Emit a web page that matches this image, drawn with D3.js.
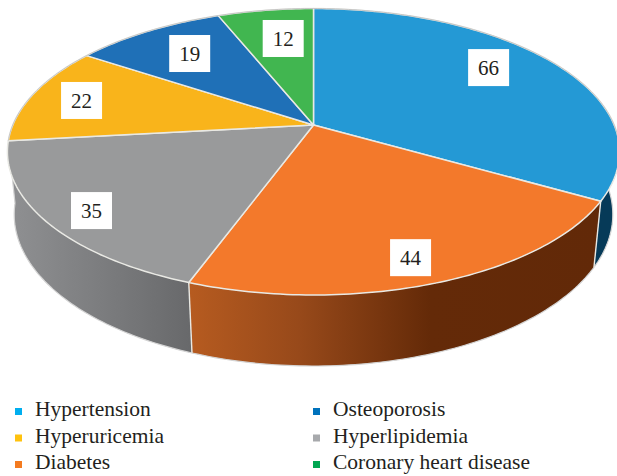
<!DOCTYPE html>
<html>
<head>
<meta charset="utf-8">
<script src="https://cdn.jsdelivr.net/npm/d3@7"></script>
<style>
    html, body { margin: 0; padding: 0; background: #fff; }
    svg { display: block; }
</style>
</head>
<body>
<div id="chart"></div>
<script>
const categories = ['Hypertension', 'Diabetes', 'Hyperlipidemia', 'Hyperuricemia', 'Osteoporosis', 'Coronary heart disease'];
const values = [66, 44, 35, 22, 19, 12];
const topColors = ['#2499d5', '#f3792b', '#999a9b', '#f9b41b', '#1f70b7', '#41b650'];
const legendColors = ['#00aeef', '#f47b20', '#a7a9ac', '#ffc20e', '#0072bc', '#00a651'];
const legendOrder = ['Hypertension', 'Osteoporosis', 'Hyperuricemia', 'Hyperlipidemia', 'Diabetes', 'Coronary heart disease'];

// wall shading, left to right in pixels: [x stops], [colours]
const wallShade = [
    [[594, 617], ['#063a58', '#063a58']],
    [[190, 300, 430, 600], ['#b65b20', '#97491a', '#642a08', '#622908']],
    [[10, 100, 190], ['#8f9092', '#7c7d7f', '#68696b']]
];
// small pixel shift of each value box from its slice centre
const labelNudge = [[4, -12], [15, 29], [-42, 20.5], [-33.5, -2.4], [-3.3, -3.3], [5, -2.3]];

const width = 617, height = 476;

// perspective view of the disc: x, y on unit disc, z = 0 top face, 1 bottom face
function project(angle, r, z) {
    const x = r * Math.sin(angle), y = -r * Math.cos(angle);
    const w = 1 - 0.1867 * y + 0.0219 * z;
    return [313.5 + 300.7 * x / w, (114.9 * y + 125 + 65.8 * z) / w];
}

const svg = d3.select('#chart').append('svg')
    .attr('width', width)
    .attr('height', height)
    .attr('viewBox', `0 0 ${width} ${height}`);

const arcs = d3.pie().sort(null)(values);
const line = d3.line();
const step = Math.PI / 180;

function arcPoints(d, z) {
    const n = Math.max(2, Math.ceil((d.endAngle - d.startAngle) / step));
    return d3.range(n + 1).map(i => project(d.startAngle + (d.endAngle - d.startAngle) * i / n, 1, z));
}

const defs = svg.append('defs');
wallShade.forEach((s, i) => {
    const x0 = s[0][0], x1 = s[0][s[0].length - 1];
    const grad = defs.append('linearGradient')
        .attr('id', `wall${i}`)
        .attr('gradientUnits', 'userSpaceOnUse')
        .attr('x1', x0).attr('x2', x1)
        .attr('y1', 0).attr('y2', 0);
    s[0].forEach((x, k) => {
        grad.append('stop')
            .attr('offset', (x - x0) / (x1 - x0))
            .attr('stop-color', s[1][k]);
    });
});

// side walls, the first three slices face the viewer
const walls = svg.append('g');
arcs.slice(0, 3).forEach((d, i) => {
    const upper = arcPoints(d, 0), lower = arcPoints(d, 1);
    walls.append('path')
        .attr('d', line(upper.concat(lower.slice().reverse())) + 'Z')
        .attr('fill', `url(#wall${i})`);
    walls.append('path')
        .attr('d', line(lower))
        .attr('fill', 'none')
        .attr('stroke', '#d4d4d4')
        .attr('stroke-width', 1.2);
});

// vertical seams, the last one is the silhouette on the left
arcs.slice(1, 3).forEach(d => {
    walls.append('path')
        .attr('d', line([project(d.startAngle, 1, 0), project(d.startAngle, 1, 1)]))
        .attr('stroke', '#e9e9e4')
        .attr('stroke-width', 1.4);
});
walls.append('path')
    .attr('d', line([project(arcs[2].endAngle, 1, 0), project(arcs[2].endAngle, 1, 1)]))
    .attr('stroke', '#d4d4d4')
    .attr('stroke-width', 1.2);

// top face
svg.append('g').selectAll('path')
    .data(arcs)
    .enter().append('path')
    .attr('d', d => line([project(0, 0, 0)].concat(arcPoints(d, 0))) + 'Z')
    .attr('fill', (d, i) => topColors[i])
    .attr('stroke', '#e9e9e4')
    .attr('stroke-width', 1.5)
    .attr('stroke-linejoin', 'round');

// thin grey edge on the far side of the disc
svg.append('g').selectAll('path')
    .data([arcs[0], arcs[3], arcs[4], arcs[5]])
    .enter().append('path')
    .attr('d', d => line(arcPoints(d, 0).filter(p => p[1] < 150)))
    .attr('fill', 'none')
    .attr('stroke', '#bdbdbd')
    .attr('stroke-width', 0.8);

// value boxes
const labels = svg.append('g').selectAll('g')
    .data(arcs)
    .enter().append('g')
    .attr('transform', (d, i) => {
        const p = project((d.startAngle + d.endAngle) / 2, 0.7, 0);
        return `translate(${p[0] + labelNudge[i][0]},${p[1] + labelNudge[i][1]})`;
    });

labels.append('rect')
    .attr('x', -20.5)
    .attr('y', -18.5)
    .attr('width', 41)
    .attr('height', 37)
    .attr('fill', '#fff');

labels.append('text')
    .text(d => d.value)
    .attr('text-anchor', 'middle')
    .attr('dy', '0.34em')
    .style('font-family', '"Liberation Serif", serif')
    .style('font-size', '21px')
    .style('fill', '#231f20');

// legend, two columns
const colX = d3.scaleOrdinal().domain([0, 1]).range([15, 313]);
const rowY = d3.scalePoint().domain([0, 1, 2]).range([416, 469]);

const legend = svg.append('g').selectAll('g')
    .data(legendOrder)
    .enter().append('g')
    .attr('transform', (d, i) => `translate(${colX(i % 2)},${rowY(Math.floor(i / 2))})`);

legend.append('rect')
    .attr('y', -8)
    .attr('width', 7)
    .attr('height', 7)
    .attr('fill', d => legendColors[categories.indexOf(d)]);

legend.append('text')
    .text(d => d)
    .attr('x', 20)
    .style('font-family', '"Liberation Serif", serif')
    .style('font-size', '21.5px')
    .style('fill', '#231f20');
</script>
</body>
</html>
